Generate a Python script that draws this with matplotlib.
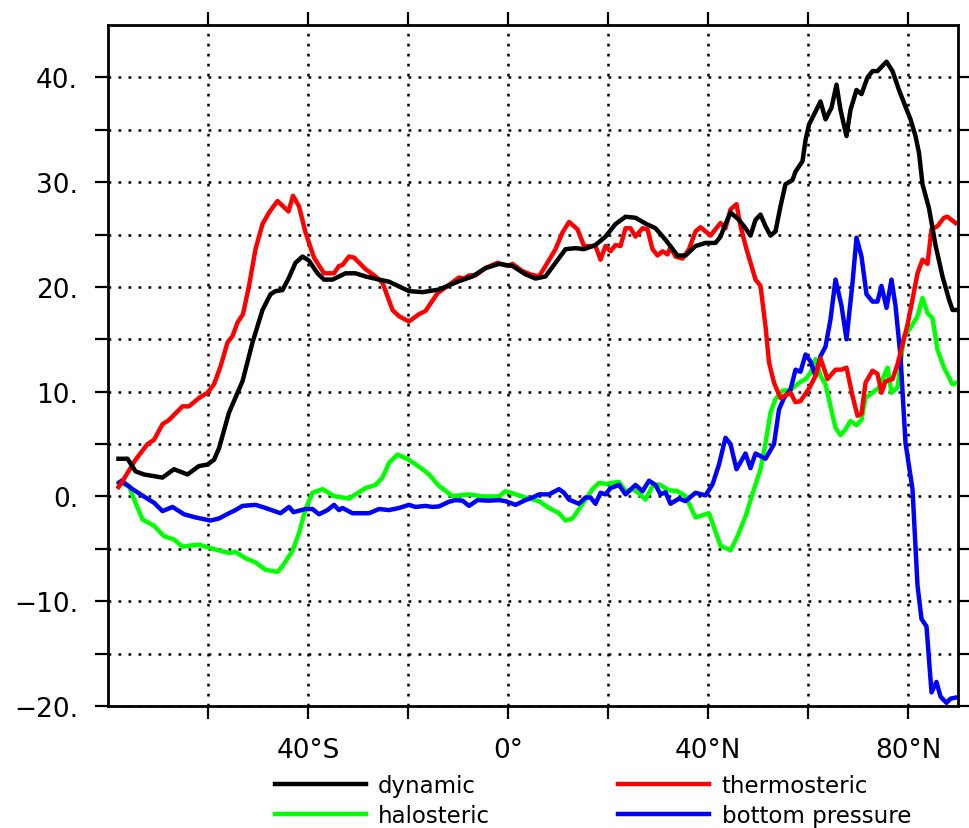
import matplotlib
matplotlib.use("Agg")
import matplotlib.pyplot as plt
from matplotlib.ticker import FixedLocator

plt.rcParams['font.family'] = ['DejaVu Sans']

# ---------------- data ----------------
dyn_lat = [-77.9, -76.1, -74.5, -72.8, -69.1, -66.8, -64.1, -61.8, -60.1, -58.8, -57.8, -55.8, -53.1, -51.1,
           -49.1, -47.5, -46.5, -45.1, -43.8, -42.5, -41.1, -39.8, -38.1, -36.8, -35.1, -32.5, -30.5, -28.5,
           -25.8, -23.8, -19.8, -17.1, -13.8, -9.8, -7.1, -4.5, -1.8, 0.9, 3.5, 5.5, 7.5, 9.5, 11.5, 13.5,
           15.2, 17.5, 19.5, 21.5, 23.5, 25.5, 27.5, 29.5, 31.5, 33.9, 35.5, 37.5, 39.5, 41.5, 42.5, 43.5,
           44.5, 46.2, 47.5, 48.5, 49.5, 50.5, 51.5, 52.5, 53.5, 54.5, 55.5, 56.9, 57.5, 58.9, 59.5, 60.2,
           61.2, 62.5, 63.5, 64.7, 65.7, 66.5, 67.7, 68.5, 69.7, 70.7, 71.9, 72.9, 73.9, 75.7, 76.9, 78.2,
           79.5, 80.5, 81.5, 82.2, 82.9, 84.2, 85.5, 86.9, 88.2, 88.9, 89.7]
dynamic = [3.6, 3.6, 2.4, 2.1, 1.8, 2.6, 2.1, 2.9, 3.05, 3.5, 4.6, 8.0, 11.0, 14.7,
           17.8, 19.3, 19.6, 19.7, 20.9, 22.3, 22.9, 22.5, 21.3, 20.7, 20.7, 21.3, 21.3, 21.0,
           20.7, 20.5, 19.6, 19.5, 19.75, 20.55, 21.0, 21.8, 22.2, 22.0, 21.2, 20.8, 21.0, 22.3, 23.6, 23.7,
           23.6, 24.0, 24.8, 26.0, 26.7, 26.6, 26.05, 25.6, 24.5, 23.0, 23.0, 23.9, 24.2, 24.2, 24.8, 26.0,
           27.1, 26.4, 25.6, 24.9, 26.4, 26.9, 25.8, 24.9, 25.3, 27.7, 29.8, 30.2, 31.0, 32.0, 34.0, 35.5,
           36.45, 37.7, 36.0, 37.1, 39.3, 36.9, 34.4, 36.9, 38.8, 38.4, 40.0, 40.6, 40.6, 41.5, 40.6, 38.8,
           37.2, 36.0, 34.4, 32.8, 29.8, 27.5, 24.0, 21.0, 18.8, 17.8, 17.8]

thermo_lat = [-77.9, -77.3, -74.5, -72.1, -70.8, -69.1, -67.8, -65.1, -63.8, -61.8, -60.1, -58.8, -57.5, -56.1,
              -55.1, -54.1, -53.0, -51.8, -50.5, -49.1, -47.8, -46.1, -43.9, -43.0, -41.8, -40.5, -38.8, -36.8,
              -34.8, -33.8, -33.1, -31.8, -30.8, -28.5, -26.5, -25.1, -23.1, -21.8, -19.8, -17.8, -16.5, -14.1,
              -11.8, -9.8, -8.8, -7.8, -6.5, -4.5, -2.1, -0.1, 0.9, 2.9, 4.5, 6.2, 7.5, 9.5, 10.9, 12.2, 13.9,
              15.2, 16.2, 17.5, 18.5, 19.5, 20.5, 21.5, 22.5, 23.5, 24.5, 25.5, 26.9, 27.9, 28.9, 29.9, 30.9,
              31.9, 32.5, 33.5, 34.9, 36.2, 37.5, 38.5, 40.5, 42.5, 43.5, 44.5, 45.7, 46.5, 47.7, 49.5, 50.5,
              51.5, 52.2, 53.2, 54.5, 56.5, 57.5, 58.5, 60.2, 61.5, 62.5, 63.9, 65.5, 66.7, 67.7, 68.9, 69.9,
              70.7, 71.5, 72.9, 73.9, 74.7, 75.5, 76.9, 77.9, 78.9, 79.9, 80.9, 81.9, 82.9, 83.9, 84.7, 85.9,
              87.2, 87.9, 89.5]
thermosteric = [0.9, 1.3, 3.5, 5.0, 5.4, 6.9, 7.3, 8.6, 8.6, 9.4, 9.9, 10.7, 12.4, 14.7,
                15.3, 16.6, 17.4, 20.1, 23.6, 26.0, 27.1, 28.2, 27.2, 28.7, 27.7, 25.2, 22.8, 21.3,
                21.3, 22.0, 22.1, 22.9, 22.8, 21.7, 21.0, 20.4, 17.8, 17.2, 16.7, 17.4, 17.7, 19.4,
                20.2, 20.9, 20.8, 21.1, 21.1, 21.8, 22.3, 22.0, 22.2, 21.5, 21.2, 21.0, 22.0, 23.6, 25.2, 26.2, 25.5,
                23.9, 23.9, 23.9, 22.6, 23.9, 23.4, 24.0, 23.9, 25.6, 25.6, 24.8, 25.6, 25.5, 23.6, 23.0, 23.4,
                23.1, 23.8, 22.9, 22.7, 23.6, 25.3, 25.7, 24.9, 26.1, 25.6, 27.4, 27.9, 25.8, 23.6, 20.7, 20.1,
                16.25, 12.8, 10.85, 9.4, 9.9, 9.0, 9.1, 10.3, 11.5, 13.2, 11.2, 12.1, 12.1, 12.3, 9.6, 7.7,
                7.9, 10.85, 12.0, 11.7, 9.9, 11.0, 11.2, 12.6, 14.5, 16.4, 18.8, 21.3, 22.6, 22.2, 25.5, 25.8,
                26.6, 26.7, 26.1]

halo_lat = [-77.8, -75.8, -74.5, -73.1, -70.8, -68.8, -66.8, -65.1, -63.8, -61.8, -59.8, -57.8, -55.8, -54.5,
            -52.5, -50.5, -48.5, -46.1, -45.1, -43.1, -41.8, -40.5, -39.1, -37.1, -34.8, -31.8, -30.5, -28.5,
            -26.5, -25.1, -23.8, -22.1, -19.8, -17.1, -15.8, -13.8, -11.1, -7.8, -5.1, -1.8, -0.5, 0.9, 3.5,
            6.2, 8.2, 10.2, 11.5, 12.9, 14.2, 15.5, 16.9, 18.2, 19.5, 20.9, 22.2, 23.5, 24.9, 26.2, 27.5,
            28.9, 30.2, 32.2, 33.9, 35.5, 37.5, 40.2, 42.5, 44.5, 45.9, 47.5, 49.2, 50.5, 51.5, 52.5, 53.5,
            54.9, 56.5, 58.2, 59.5, 60.5, 61.5, 62.5, 63.5, 64.5, 65.5, 66.5, 67.5, 68.5, 69.7, 70.7, 71.5,
            72.9, 74.2, 75.9, 76.7, 77.9, 79.2, 80.5, 81.9, 82.9, 83.9, 84.9, 85.9, 87.2, 88.9, 89.7]
halosteric = [1.3, 1.0, -0.6, -2.2, -2.8, -3.8, -4.1, -4.8, -4.7, -4.6, -4.9, -5.15, -5.4, -5.3,
              -5.9, -6.3, -7.0, -7.2, -6.65, -5.2, -3.5, -1.2, 0.35, 0.7, 0.03, -0.2, 0.2, 0.8,
              1.1, 1.8, 3.2, 4.0, 3.5, 2.6, 2.1, 1.0, 0.03, 0.2, 0.0, 0.0, 0.5, 0.3, -0.1,
              -0.45, -1.1, -1.6, -2.3, -2.1, -1.2, -0.3, 0.7, 1.3, 1.2, 1.3, 1.4, 0.5, 0.7, 0.3, -0.3,
              1.0, 1.15, 0.6, 0.5, 0.03, -2.0, -1.6, -4.7, -5.15, -3.8, -1.9, 0.7, 2.6, 5.1, 8.0, 9.3,
              10.1, 10.15, 10.85, 11.2, 11.8, 13.1, 11.5, 10.7, 8.6, 6.55, 5.85, 6.4, 7.2, 6.8, 7.3, 9.4,
              9.9, 10.4, 12.3, 9.9, 10.4, 15.3, 16.1, 17.2, 18.95, 17.5, 17.0, 14.0, 12.3, 10.7, 10.85]

bot_lat = [-77.8, -77.3, -75.1, -72.5, -70.8, -69.1, -67.1, -64.8, -62.5, -59.5, -57.8, -55.8, -54.5, -53.1,
           -50.5, -48.5, -45.5, -43.8, -42.9, -40.5, -39.1, -37.8, -36.1, -34.8, -33.8, -33.1, -31.1, -27.8,
           -25.8, -23.8, -21.8, -19.8, -18.5, -16.5, -15.1, -13.8, -11.8, -10.5, -9.1, -7.8, -6.1, -3.8, -1.8,
           -0.5, 1.5, 3.5, 4.9, 6.2, 8.2, 10.2, 11.2, 12.2, 14.2, 15.5, 16.5, 17.5, 18.5, 19.5, 20.5, 22.2,
           23.5, 25.5, 26.9, 28.2, 29.5, 30.5, 31.5, 32.5, 34.2, 35.5, 37.5, 39.5, 40.9, 42.2, 43.5, 44.5,
           45.7, 47.5, 48.5, 49.5, 51.5, 53.2, 54.2, 55.2, 56.5, 57.5, 58.5, 59.5, 60.5, 61.5, 62.5, 63.5,
           64.5, 65.5, 66.7, 67.7, 68.9, 69.7, 70.7, 71.7, 72.9, 73.9, 74.7, 75.7, 76.7, 77.5, 78.5, 79.5,
           80.9, 81.9, 82.7, 83.7, 84.7, 85.7, 86.5, 87.7, 88.5, 89.5]
bottom_pressure = [1.3, 1.5, 0.7, -0.1, -0.6, -1.4, -1.0, -1.7, -2.0, -2.3, -2.1, -1.6, -1.3, -0.9,
                   -0.8, -1.1, -1.6, -1.0, -1.5, -1.2, -1.2, -1.7, -1.3, -0.8, -1.3, -1.1, -1.6, -1.6,
                   -1.2, -1.3, -1.1, -0.8, -1.0, -0.9, -1.0, -0.95, -0.5, -0.35, -0.4, -0.9, -0.35, -0.4, -0.35,
                   -0.45, -0.8, -0.35, -0.1, 0.2, 0.2, 0.7, 0.35, -0.3, -0.7, -0.1, -0.1, -0.7, 0.35, 0.2, 0.8, 1.1,
                   0.2, 1.1, 0.5, 1.5, 1.1, 0.2, 0.4, -0.7, -0.2, -0.45, 0.35, 0.1, 1.15, 3.05, 5.6, 5.0,
                   2.6, 4.1, 2.7, 4.1, 3.6, 5.0, 8.3, 9.4, 10.2, 12.1, 11.9, 13.55, 12.9, 11.5, 13.4, 14.3,
                   16.9, 20.7, 18.2, 15.0, 20.4, 24.7, 22.9, 19.3, 18.6, 18.6, 20.1, 18.0, 20.7, 18.2, 13.4, 5.1,
                   0.7, -8.5, -11.7, -12.4, -18.7, -17.7, -19.1, -19.7, -19.3, -19.2]

labels = ["dynamic", "thermosteric", "halosteric", "bottom pressure"]
colors = ["black", "red", "#00ff00", "blue"]

x_ticks = [-60, -40, -20, 0, 20, 40, 60, 80]
x_ticklabels = ["", "40°S", "", "0°", "", "40°N", "", "80°N"]
y_ticks = [-20, -15, -10, -5, 0, 5, 10, 15, 20, 25, 30, 35, 40]
y_ticklabels = ["−20.", "", "−10.", "", "0.", "", "10.", "", "20.", "", "30.", "", "40."]

# ---------------- figure ----------------
fig = plt.figure(figsize=(9.7, 8.29), dpi=100)
ax = fig.add_axes([108/970, 1-707/829, (958-108)/970, (707-26)/829])

h_dyn, = ax.plot(dyn_lat, dynamic, color=colors[0], lw=3.2, label=labels[0], zorder=5)
h_the, = ax.plot(thermo_lat, thermosteric, color=colors[1], lw=3.2, label=labels[1], zorder=4)
h_hal, = ax.plot(halo_lat, halosteric, color=colors[2], lw=3.2, label=labels[2], zorder=3)
h_bot, = ax.plot(bot_lat, bottom_pressure, color=colors[3], lw=3.2, label=labels[3], zorder=3.5)

ax.set_xlim(-80, 90)
ax.set_ylim(-20, 45)

ax.xaxis.set_major_locator(FixedLocator(x_ticks))
ax.set_xticklabels(x_ticklabels)
ax.yaxis.set_major_locator(FixedLocator(y_ticks))
ax.set_yticklabels(y_ticklabels)

ax.grid(True, color="black", lw=1.8, linestyle=(0, (1.1, 2.9)))
ax.set_axisbelow(True)

for sp in ax.spines.values():
    sp.set_linewidth(2.0)
    sp.set_zorder(10)

ax.tick_params(axis="both", which="major", direction="out", length=9.5, width=1.6,
               top=True, right=True, labelsize=19)
ax.tick_params(axis="y", pad=12)
ax.tick_params(axis="x", pad=13)

fig.legend([h_dyn, h_hal, h_the, h_bot],
           ["dynamic", "halosteric", "thermosteric", "bottom pressure"],
           ncol=2, loc="upper left", bbox_to_anchor=(275/970, 1-775/829),
           frameon=False, fontsize=16.5, handlelength=3.95, handletextpad=0.55,
           columnspacing=5.6, labelspacing=0.32, borderpad=0, borderaxespad=0)

fig.savefig("out.png", dpi=100)
